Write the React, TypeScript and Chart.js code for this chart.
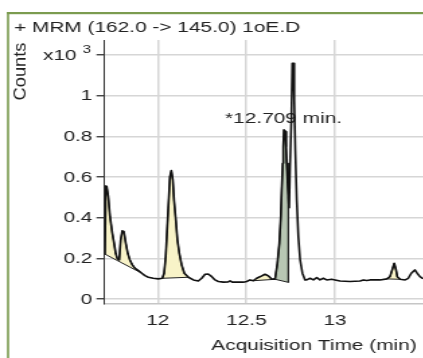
import { useEffect, useRef } from 'react';
import { Chart, registerables } from 'chart.js';

Chart.register(...registerables);

// ---- data (minutes, counts x10^3) ----
const traceX = [
  11.702, 11.707, 11.712, 11.721, 11.731, 11.744, 11.754, 11.763, 11.772, 11.783,
  11.791, 11.800, 11.809, 11.820, 11.831, 11.843, 11.857, 11.872, 11.891, 11.910,
  11.928, 11.947, 11.975, 12.003, 12.026, 12.036, 12.045, 12.054, 12.062, 12.069,
  12.077, 12.085, 12.092, 12.102, 12.111, 12.122, 12.135, 12.150, 12.173, 12.201,
  12.229, 12.248, 12.267, 12.285, 12.305, 12.323, 12.342, 12.370, 12.398, 12.408,
  12.420, 12.446, 12.483, 12.502, 12.521, 12.539, 12.558, 12.587, 12.605, 12.624,
  12.643, 12.662, 12.675, 12.686, 12.694, 12.699, 12.705, 12.708, 12.712, 12.720,
  12.724, 12.728, 12.733, 12.737, 12.741, 12.746, 12.754, 12.759, 12.765, 12.770,
  12.776, 12.784, 12.793, 12.803, 12.816, 12.831, 12.840, 12.859, 12.878, 12.897,
  12.915, 12.934, 12.953, 12.981, 13.000, 13.028, 13.084, 13.141, 13.160, 13.179,
  13.197, 13.254, 13.292, 13.310, 13.325, 13.334, 13.344, 13.351, 13.367, 13.395,
  13.413, 13.430, 13.450, 13.463, 13.479, 13.494, 13.520, 13.550,
];
const traceY = [
  0.222, 0.557, 0.555, 0.505, 0.406, 0.325, 0.275, 0.226, 0.200, 0.193,
  0.290, 0.336, 0.333, 0.275, 0.226, 0.193, 0.169, 0.152, 0.141, 0.128,
  0.116, 0.108, 0.103, 0.100, 0.103, 0.128, 0.210, 0.357, 0.488, 0.603,
  0.633, 0.587, 0.488, 0.390, 0.292, 0.226, 0.169, 0.128, 0.108, 0.095,
  0.090, 0.103, 0.123, 0.124, 0.111, 0.095, 0.087, 0.084, 0.085, 0.090,
  0.084, 0.084, 0.084, 0.087, 0.095, 0.091, 0.103, 0.115, 0.123, 0.115,
  0.098, 0.100, 0.177, 0.275, 0.406, 0.538, 0.669, 0.750, 0.833, 0.825,
  0.750, 0.669, 0.571, 0.505, 0.450, 0.652, 0.898, 1.161, 1.161, 0.980,
  0.734, 0.488, 0.308, 0.193, 0.128, 0.095, 0.095, 0.103, 0.095, 0.106,
  0.095, 0.103, 0.095, 0.098, 0.095, 0.090, 0.087, 0.090, 0.095, 0.092,
  0.095, 0.095, 0.100, 0.111, 0.152, 0.177, 0.144, 0.111, 0.098, 0.095,
  0.103, 0.128, 0.144, 0.128, 0.111, 0.103, 0.100, 0.098,
];

// integrated peaks: start/end time and baseline level at each end
const peakStartX = [11.702, 12.026, 12.539, 12.662, 13.292];
const peakEndX = [11.910, 12.173, 12.662, 12.737, 13.367];
const baseStartY = [0.222, 0.103, 0.091, 0.098, 0.100];
const baseEndY = [0.128, 0.108, 0.098, 0.083, 0.098];
const peakKinds = ['other', 'other', 'other', 'target', 'other'];

const xTickValues = [12, 12.5, 13];
const xTickLabels = ['12', '12.5', '13'];
const yTickValues = [0, 0.2, 0.4, 0.6, 0.8, 1, 1.2];
const yTickLabels = ['0', '0.2', '0.4', '0.6', '0.8', '1', ''];

const titleText = '+ MRM (162.0 -> 145.0) 1oE.D';
const yTitle = 'Counts';
const yExpBase = 'x10';
const yExpPower = '3';
const xTitle = 'Acquisition Time (min)';
const peakLabel = '*12.709 min.';

// ---- layout ----
const S = 1.345; // horizontal stretch
const CW = 330;
const CH = 358;
const FONT = '"Liberation Sans", Arial, Helvetica, sans-serif';
const FS = 15.5;
const TEXT = '#222222';

const decor = {
  id: 'decor',
  beforeDatasetsDraw(chart: any) {
    const ctx = chart.ctx;
    ctx.save();
    ctx.font = `${FS}px ${FONT}`;
    ctx.fillStyle = TEXT;
    ctx.textAlign = 'left';
    ctx.textBaseline = 'middle';
    ctx.fillText(peakLabel, 167.3, 118.3);
    ctx.restore();
  },
  afterDraw(chart: any) {
    const ctx = chart.ctx;
    ctx.save();
    // frame
    ctx.fillStyle = '#7b9b4f';
    ctx.fillRect(5.2, 12, 1.6, CH - 12);
    ctx.fillRect(5.2, 12, CW, 2.2);
    // title
    ctx.font = `${FS}px ${FONT}`;
    ctx.fillStyle = TEXT;
    ctx.textAlign = 'left';
    ctx.textBaseline = 'alphabetic';
    ctx.fillText(titleText, 10.4, 31.5);
    // y exponent label
    ctx.textBaseline = 'middle';
    ctx.fillText(yExpBase, 32, 55.3);
    ctx.font = `11px ${FONT}`;
    ctx.textBaseline = 'alphabetic';
    ctx.fillText(yExpPower, 61.5, 53);
    // x title
    ctx.font = `${FS}px ${FONT}`;
    ctx.textAlign = 'right';
    ctx.fillText(xTitle, 309.8, 350);
    // y title (rotated)
    ctx.save();
    ctx.translate(21 / S, 71.5);
    ctx.rotate(-Math.PI / 2);
    ctx.scale(1.18, 0.85);
    ctx.textAlign = 'center';
    ctx.textBaseline = 'middle';
    ctx.fillText(yTitle, 0, 0);
    ctx.restore();
    ctx.restore();
  },
};

export default function App() {
  const ref = useRef<HTMLCanvasElement | null>(null);

  useEffect(() => {
    const canvas = ref.current;
    if (!canvas) return;

    const peakSets = peakStartX.map((xs, k) => {
      const xe = peakEndX[k];
      const pts: { x: number; y: number }[] = [{ x: xs, y: baseStartY[k] }];
      traceX.forEach((x, i) => {
        if (x >= xs - 1e-9 && x <= xe + 1e-9) pts.push({ x, y: traceY[i] });
      });
      pts.push({ x: xe, y: baseEndY[k] });
      pts.push({ x: xs, y: baseStartY[k] });
      return {
        data: pts,
        fill: 'shape',
        backgroundColor: peakKinds[k] === 'target' ? '#b8c7b3' : '#f8f3c8',
        borderColor: '#222222',
        borderWidth: 1,
        pointRadius: 0,
        tension: 0,
      };
    });

    const traceSet = {
      data: traceX.map((x, i) => ({ x, y: traceY[i] })),
      fill: false,
      borderColor: '#111111',
      borderWidth: 1.6,
      borderJoinStyle: 'round',
      pointRadius: 0,
      tension: 0,
    };

    const chart = new Chart(canvas, {
      type: 'line',
      data: { datasets: [traceSet, ...peakSets] as any },
      options: {
        animation: false,
        responsive: false,
        devicePixelRatio: 1,
        events: [],
        layout: { padding: { left: 0, right: CW - 321.6, top: 40, bottom: 0 } },
        plugins: {
          legend: { display: false },
          tooltip: { enabled: false },
          title: { display: false },
        },
        scales: {
          x: {
            type: 'linear',
            min: 11.7,
            max: 13.55,
            afterBuildTicks: (s: any) => {
              s.ticks = xTickValues.map((v) => ({ value: v }));
            },
            afterFit: (s: any) => {
              s.height = CH - 303.3;
            },
            ticks: {
              autoSkip: false,
              maxRotation: 0,
              padding: 8,
              color: TEXT,
              font: { family: FONT, size: FS },
              callback: (_v: any, i: number) => xTickLabels[i],
            },
            grid: { color: '#d6d6d6', lineWidth: 1.5, drawTicks: false },
            border: { color: '#c6c6c6', width: 1.5 },
          },
          y: {
            type: 'linear',
            min: -0.02,
            max: 1.275,
            afterBuildTicks: (s: any) => {
              s.ticks = yTickValues.map((v) => ({ value: v }));
            },
            afterFit: (s: any) => {
              s.width = 77.7;
            },
            ticks: {
              padding: 3,
              color: TEXT,
              font: { family: FONT, size: FS },
              callback: (_v: any, i: number) => yTickLabels[i],
            },
            grid: {
              color: '#d6d6d6',
              lineWidth: 1.5,
              tickColor: '#333333',
              tickLength: 6,
              tickWidth: 1.3,
            },
            border: { color: '#333333', width: 1 },
          },
        },
      } as any,
      plugins: [decor],
    });

    return () => chart.destroy();
  }, []);

  return (
    <div
      style={{
        position: 'fixed',
        left: 0,
        top: 0,
        width: 423,
        height: 358,
        overflow: 'hidden',
        background: '#ffffff',
      }}
    >
      <canvas
        ref={ref}
        width={CW}
        height={CH}
        style={{
          display: 'block',
          width: `${CW}px`,
          height: `${CH}px`,
          transform: `scaleX(${S})`,
          transformOrigin: '0 0',
        }}
      />
    </div>
  );
}
